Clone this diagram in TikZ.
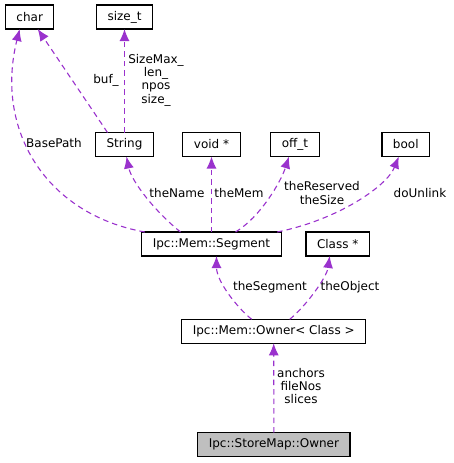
\documentclass[tikz,border=0pt]{standalone}
\usepackage{fontspec}
\setmainfont{DejaVu Sans}
\usepackage{xcolor}
\usepackage{tikz}
\usetikzlibrary{arrows.meta}
\definecolor{edgepurple}{HTML}{9A32CD}
\definecolor{mainfill}{HTML}{BFBFBF}

\begin{document}
\begin{tikzpicture}[x=1pt,y=-1pt,every node/.style={draw, outer sep=0pt, font=\fontsize{12}{13.3}\selectfont}]
\tikzset{sarrow/.style={-{Latex[length=12pt,width=10pt]},edgepurple,line width=1.1pt,dash pattern=on 5.5pt off 4pt}}
\tikzset{mbox/.style={fill=white,inner xsep=11pt,inner ysep=0pt,minimum height=24pt,line width=1.1pt}}
\tikzset{mlabel/.style={draw=none,align=center,inner sep=0pt}}

\useasboundingbox (0,0) rectangle (453,463);

  \node(CH) [mbox] at (29.7,17) {char};
  \node(SZ) [mbox] at (124.5,17) {size\_t};
  \node(STR) [mbox] at (124.5,144.5) {String};
  \node(VD) [mbox] at (211.5,144.5) {void *};
  \node(OFF) [mbox] at (295,144.5) {off\_t};
  \node(BL) [mbox] at (405.8,144.5) {bool};
  \node(SEG) [mbox] at (211.5,244) {Ipc::Mem::Segment};
  \node(CLS) [mbox] at (337.7,244) {Class *};
  \node(OWN) [mbox] at (273.7,331.3) {Ipc::Mem::Owner< Class >};
  \node(SMO) [mbox,fill=mainfill] at (273.9,444.5) {Ipc::StoreMap::Owner};

  % member labels
  \node(LBP) [mlabel] at (54,143) {BasePath};
  \node(LBUF) [mlabel] at (106,80) {buf\_};
  \node(LSZ) [mlabel] at (156,80) {SizeMax\_\\len\_\\npos\\size\_};
  \node(LNAME) [mlabel] at (177,193) {theName};
  \node(LMEM) [mlabel] at (239,193) {theMem};
  \node(LRES) [mlabel] at (322,193) {theReserved\\theSize};
  \node(LUNL) [mlabel] at (420,193) {doUnlink};
  \node(LSEG) [mlabel] at (270,287) {theSegment};
  \node(LOBJ) [mlabel] at (350,287) {theObject};
  \node(LANC) [mlabel] at (301,386) {anchors\\fileNos\\slices};

\draw[sarrow] ([xshift=3pt]SEG.north west) .. controls +(-100,-18) and +(-25,100) .. ([xshift=-10pt]CH.south);
\draw[sarrow] ([xshift=-17pt]STR.north) -- ([xshift=8pt]CH.south);
\draw[sarrow] (STR.north) -- (SZ.south);
\draw[sarrow] ([xshift=-31pt]SEG.north) .. controls +(-25,-20) and +(5,25) .. ([xshift=2pt]STR.south);
\draw[sarrow] (SEG.north) -- (VD.south);
\draw[sarrow] ([xshift=24pt]SEG.north) .. controls +(25,-15) and +(-8,25) .. ([xshift=-6pt]OFF.south);
\draw[sarrow] ([xshift=-4pt]SEG.north east) .. controls +(60,-12) and +(-12,30) .. ([xshift=-7pt]BL.south);
\draw[sarrow] ([xshift=-22pt]OWN.north) .. controls +(-15,-12) and +(0,25) .. ([xshift=5pt]SEG.south);
\draw[sarrow] ([xshift=16pt]OWN.north) .. controls +(15,-12) and +(-3,22) .. ([xshift=-8pt]CLS.south);
\draw[sarrow] (SMO.north) -- (OWN.south);
\end{tikzpicture}
\end{document}
